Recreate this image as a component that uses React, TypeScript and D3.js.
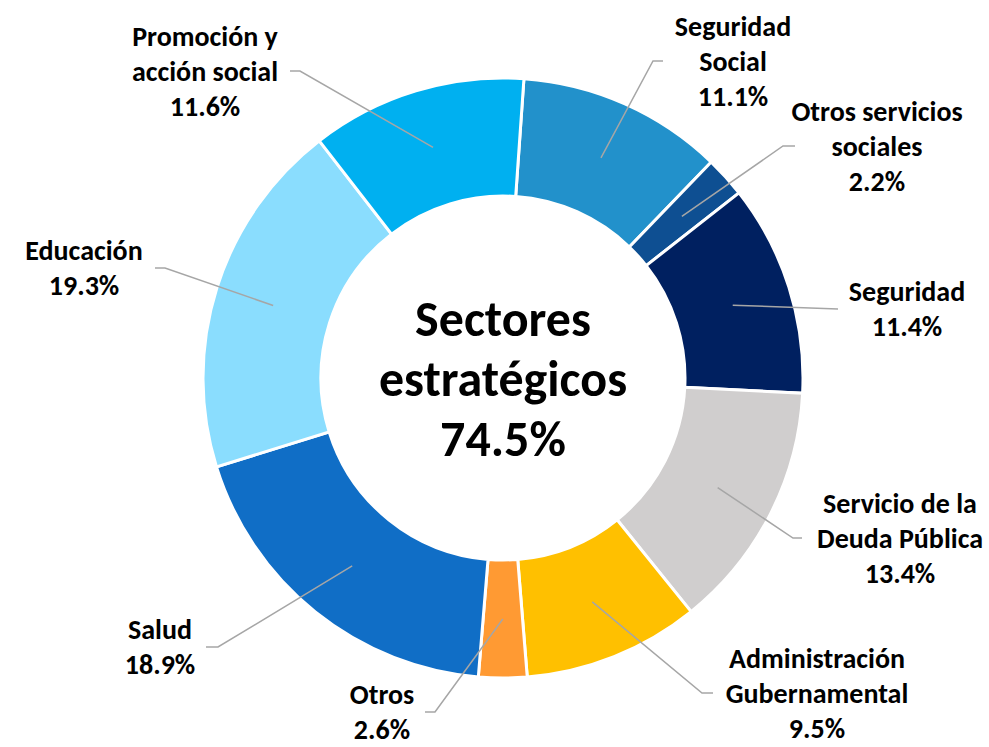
import * as d3 from "d3";

const sectors = [
  "Seguridad Social",
  "Otros servicios sociales",
  "Seguridad",
  "Servicio de la Deuda Pública",
  "Administración Gubernamental",
  "Otros",
  "Salud",
  "Educación",
  "Promoción y acción social",
];
const shares = [11.1, 2.2, 11.4, 13.4, 9.5, 2.6, 18.9, 19.3, 11.6];
const labelLines = [
  ["Seguridad", "Social"],
  ["Otros servicios", "sociales"],
  ["Seguridad"],
  ["Servicio de la", "Deuda Pública"],
  ["Administración", "Gubernamental"],
  ["Otros"],
  ["Salud"],
  ["Educación"],
  ["Promoción y", "acción social"],
];
const centerLines = ["Sectores", "estratégicos", "74.5%"];

const colors = [
  "#2291CB",
  "#0E4F92",
  "#002060",
  "#D0CECE",
  "#FFC000",
  "#FF9A33",
  "#106EC6",
  "#8ADDFE",
  "#00B0F0",
];

// hand placed labels: leader elbow (ex, ey), tail direction, text block centre x
const labelPos = [
  { ex: 653, ey: 61, tail: 10, tx: 733 },
  { ex: 783, ey: 146, tail: 12, tx: 877 },
  { ex: 838, ey: 309, tail: 0, tx: 907 },
  { ex: 793, ey: 538, tail: 9, tx: 900 },
  { ex: 702, ey: 693, tail: 11, tx: 817 },
  { ex: 435, ey: 712, tail: -10, tx: 382 },
  { ex: 218, ey: 647, tail: -12, tx: 160 },
  { ex: 165, ey: 268, tail: -10, tx: 84 },
  { ex: 300, ey: 71, tail: -10, tx: 205 },
];

const width = 989;
const height = 747;
const cx = 503;
const cy = 378;
const outerR = 300;
const innerR = 182;
const font = "Carlito, Calibri, Lato, sans-serif";

export default function App() {
  const data = sectors.map((name, i) => ({ name, value: shares[i], i }));
  const start = (4 * Math.PI) / 180;
  const pie = d3
    .pie<{ name: string; value: number; i: number }>()
    .sort(null)
    .value((d) => d.value)
    .startAngle(start)
    .endAngle(start + 2 * Math.PI);
  const arcs = pie(data);
  const arc = d3
    .arc<d3.PieArcDatum<{ name: string; value: number; i: number }>>()
    .innerRadius(innerR)
    .outerRadius(outerR);

  const lineH = 35;
  const centerH = 60;

  return (
    <svg
      width={width}
      height={height}
      style={{ position: "absolute", left: 0, top: 0, background: "#fff" }}
    >
      <g transform={`translate(${cx},${cy})`}>
        {arcs.map((a) => (
          <path
            key={a.data.name}
            d={arc(a) || ""}
            fill={colors[a.data.i]}
            stroke="#fff"
            strokeWidth={3}
          />
        ))}
      </g>
      <g fill="none" stroke="#A6A6A6" strokeWidth={1.5}>
        {arcs.map((a) => {
          const [px, py] = arc.centroid(a);
          const p = labelPos[a.data.i];
          const pts: [number, number][] = [
            [cx + px, cy + py],
            [p.ex, p.ey],
          ];
          if (p.tail) pts.push([p.ex + p.tail, p.ey]);
          return <path key={a.data.name} d={d3.line()(pts) || ""} />;
        })}
      </g>
      <g
        fontFamily={font}
        fontWeight="bold"
        fontSize={28}
        fill="#000"
        textAnchor="middle"
      >
        {arcs.map((a) => {
          const p = labelPos[a.data.i];
          const lines = [...labelLines[a.data.i], `${shares[a.data.i].toFixed(1)}%`];
          const top = p.ey - ((lines.length - 1) * lineH) / 2;
          return (
            <text key={a.data.name} x={p.tx}>
              {lines.map((l, k) => (
                <tspan key={k} x={p.tx} y={top + k * lineH} dominantBaseline="central">
                  {l}
                </tspan>
              ))}
            </text>
          );
        })}
      </g>
      <text
        fontFamily={font}
        fontWeight="bold"
        fontSize={50}
        textAnchor="middle"
        fill="#000"
      >
        {centerLines.map((l, k) => (
          <tspan
            key={k}
            x={cx}
            y={cy - centerH + k * centerH}
            dominantBaseline="central"
          >
            {l}
          </tspan>
        ))}
      </text>
    </svg>
  );
}
